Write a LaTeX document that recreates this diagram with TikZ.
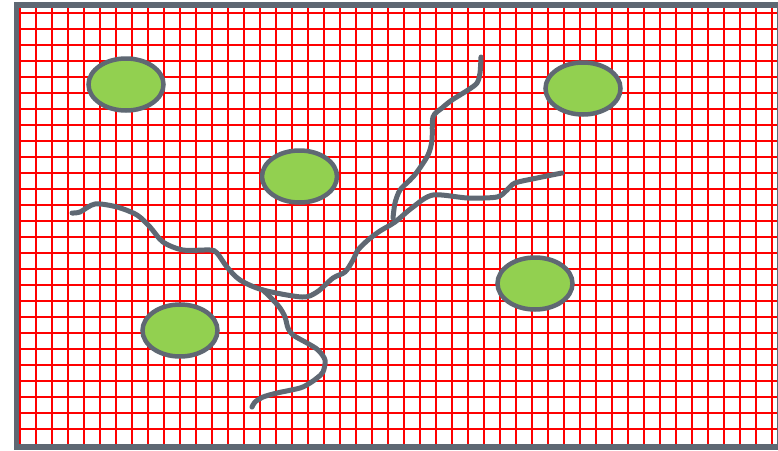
\documentclass[tikz,border=0pt]{standalone}
\usetikzlibrary{shapes.geometric}
\begin{document}
\begin{tikzpicture}[x=1pt,y=-1pt,
  gridline/.style={draw=red,line width=2.2pt},
  framebox/.style={draw=slate,line width=5.5pt},
  blob/.style={ellipse,draw=slate,line width=4.5pt,fill=leaf,minimum width=75pt,minimum height=52pt,inner sep=0pt},
  crack/.style={draw=slate,line width=5pt,line cap=round,line join=round}]
\definecolor{slate}{RGB}{95,104,115}
\definecolor{leaf}{RGB}{146,208,80}
\useasboundingbox (0,0) rectangle (778,450);
\fill[white] (0,0) rectangle (778,450);
% grid
\foreach \k in {0,...,47} {
  \draw[gridline] ({20+16*\k},5) -- ({20+16*\k},447);
}
\foreach \k in {0,...,26} {
  \draw[gridline] (16,{13.3+16*\k}) -- (778,{13.3+16*\k});
}
% frame
\draw[framebox] (16.5,5) rectangle (779.5,447);
% cracks
\draw[crack] plot[smooth,tension=0.5] coordinates {
 (72,213) (80,212) (95,204) (117,207) (137,215) (150,227) (163,242) (183,250)
 (210,250) (217,253) (227,267) (240,280) (263,290) (302,297) (317,292)
 (333,278) (345,272) (353,260) (358,250) (368,240) (380,231) (395,222)
 (413,207) (433,195) (468,198) (497,197) (507,190) (515,183) (537,178) (562,173)};
\draw[crack] plot[smooth,tension=0.5] coordinates {
 (393,218) (395,203) (400,190) (410,180) (417,172) (428,155) (432,140) (433,117)
 (442,108) (452,100) (468,90) (477,83) (480,73) (481,57)};
\draw[crack] plot[smooth,tension=0.5] coordinates {
 (263,290) (273,300) (280,308) (285,317) (288,328) (293,335) (307,343) (318,350)
 (325,360) (323,372) (317,378) (310,383) (300,388) (277,393) (263,397) (255,402) (252,407)};
% particles
\node[blob] (p1) at (126,84.5) {};
\node[blob] (p2) at (299.5,176.5) {};
\node[blob] (p3) at (583,88.5) {};
\node[blob] (p4) at (535,283.5) {};
\node[blob] (p5) at (180,330.5) {};
\end{tikzpicture}
\end{document}
